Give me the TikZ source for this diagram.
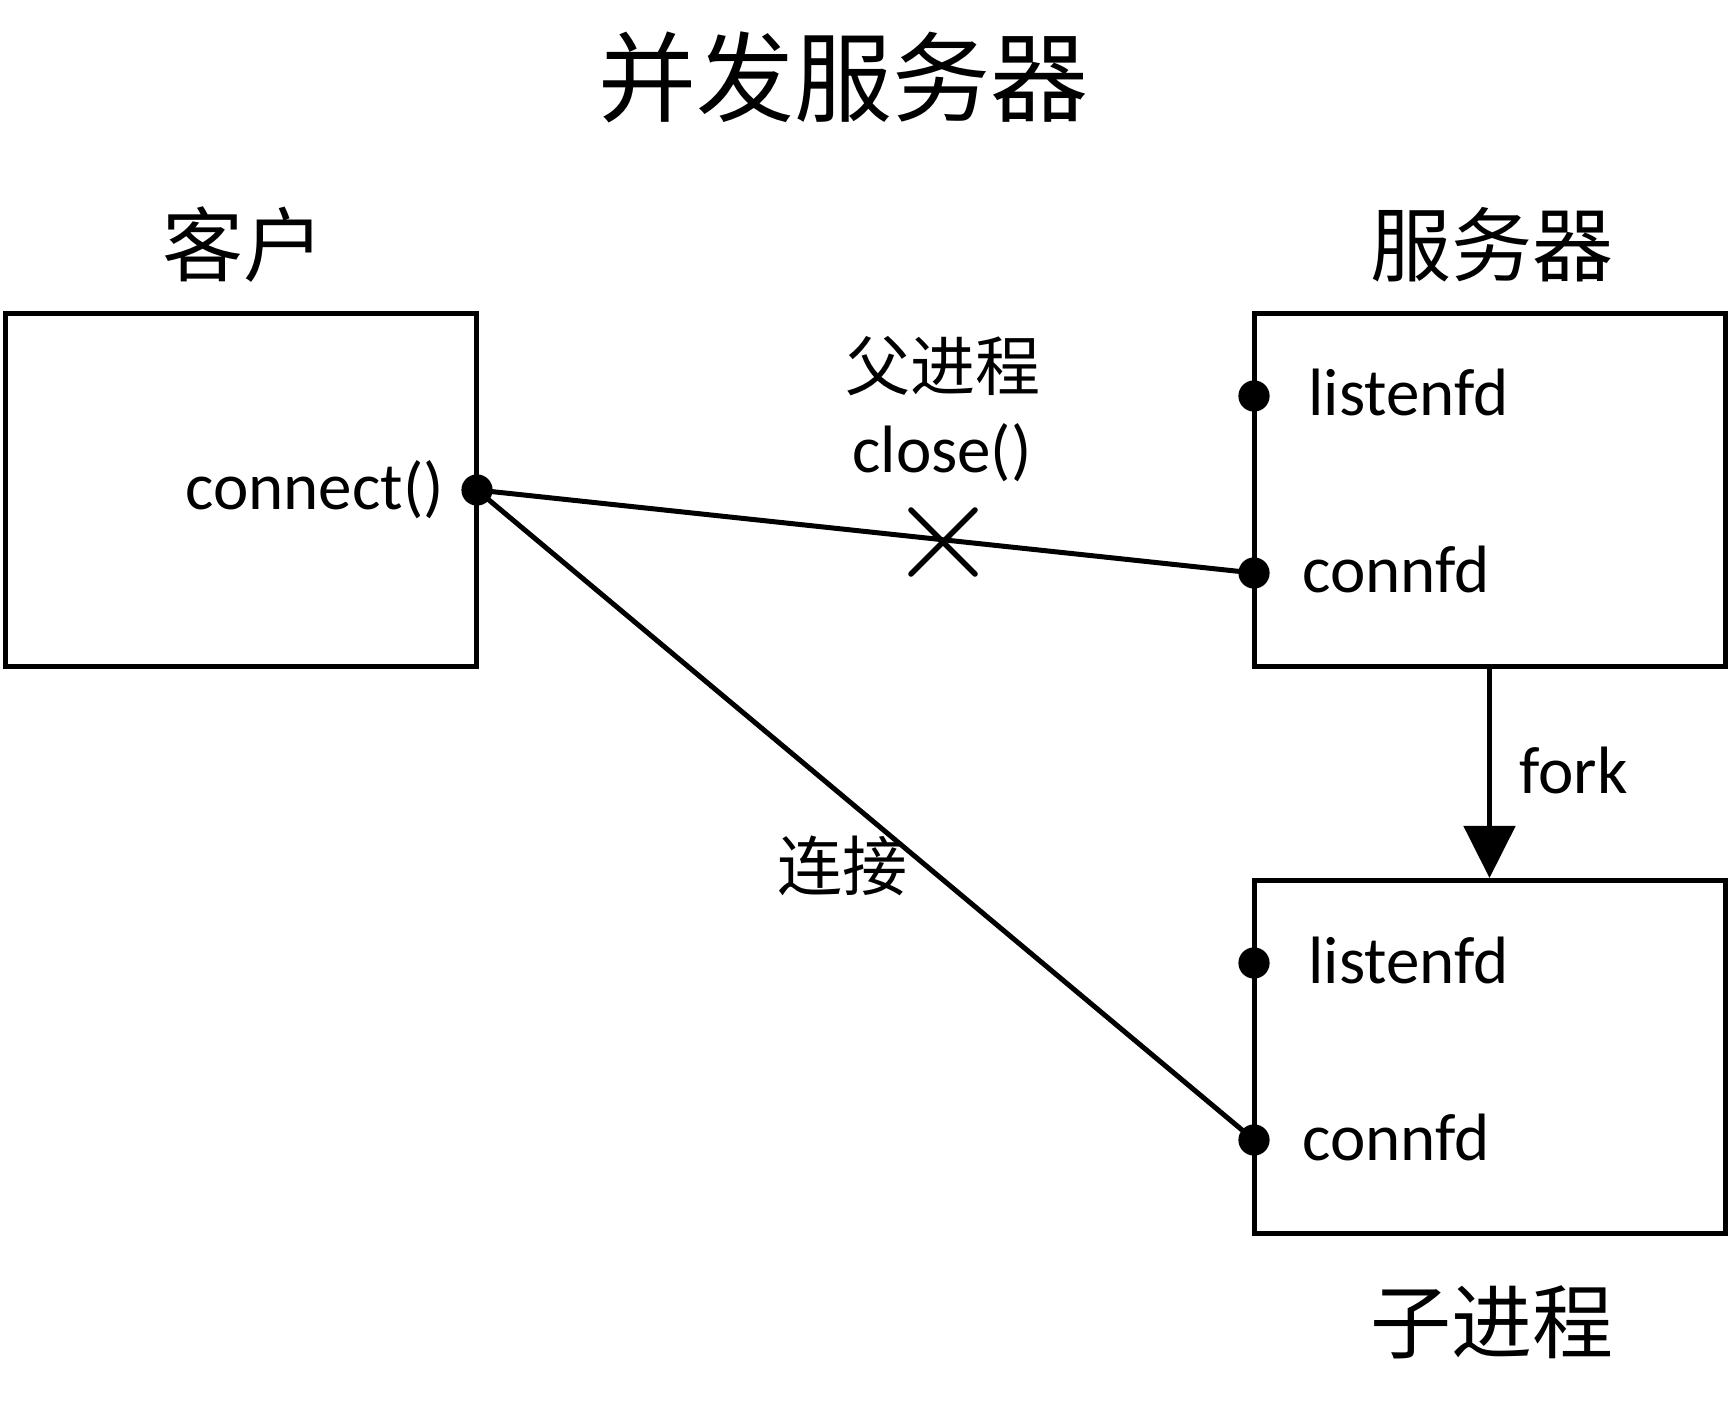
\documentclass[tikz,border=0pt]{standalone}
\usepackage{fontspec}
\setmainfont{Carlito}
\newfontfamily\cjk{Noto Sans CJK SC}
\usetikzlibrary{arrows.meta}
\begin{document}
\begin{tikzpicture}[x=0.5pt,y=-0.5pt,
  box/.style={draw,line width=2.5pt,rectangle,inner sep=0pt,line join=miter,
    minimum width=235.5pt,minimum height=176.5pt},
  conn/.style={line width=2.5pt},
  dotmark/.style={fill=black},
  lat/.style={font=\fontsize{33.5pt}{38pt}\selectfont,inner sep=0pt},
  titlecjk/.style={font=\cjk\fontsize{49pt}{54pt}\selectfont,inner sep=0pt},
  bigcjk/.style={font=\cjk\fontsize{40.5pt}{45pt}\selectfont,inner sep=0pt},
  smallcjk/.style={font=\cjk\fontsize{32.5pt}{36pt}\selectfont,inner sep=0pt},
  cross/.style={line width=2.8pt,line cap=round}]
\useasboundingbox (0,0) rectangle (1731,1406);
% boxes
\node[box] (client) at (241,490.5) {};
\node[box] (server) at (1489.5,490.5) {};
\node[box] (child) at (1489.5,1057) {};
% titles
\node[titlecjk] (title) at (843,77) {并发服务器};
\node[bigcjk] (clientlbl) at (243,245) {客户};
\node[bigcjk] (serverlbl) at (1492,245) {服务器};
\node[bigcjk] (childlbl) at (1492,1322) {子进程};
% port coordinates
\coordinate (cdot) at (477,490);
\coordinate (slisten) at (1254,396);
\coordinate (sconn) at (1254,573);
\coordinate (clisten) at (1254,963);
\coordinate (cconn) at (1254,1140);
% texts
\node[lat,anchor=base west] (connecttxt) at (185,510) {connect()};
\node[lat,anchor=base west] (slistentxt) at (1308,416) {listenfd};
\node[lat,anchor=base west] (sconntxt) at (1302,593) {connfd};
\node[lat,anchor=base west] (clistentxt) at (1308,983) {listenfd};
\node[lat,anchor=base west] (cconntxt) at (1302,1160) {connfd};
\node[lat,anchor=base west] (forktxt) at (1519,794) {fork};
\node[lat,anchor=base] (closetxt) at (942,473) {close()};
\node[smallcjk] (parenttxt) at (943,366) {父进程};
\node[smallcjk] (linktxt) at (842,866) {连接};
% connectors
\draw[conn] (cdot) -- (sconn);
\draw[conn] (cdot) -- (cconn);
\draw[conn,-{Triangle[length=26pt,width=25.5pt]}] (server.south) -- (child.north);
% cross
\coordinate (xc) at (943,542);
\draw[cross] ([xshift=-16pt,yshift=16pt]xc) -- ([xshift=16pt,yshift=-16pt]xc);
\draw[cross] ([xshift=-16pt,yshift=-16pt]xc) -- ([xshift=16pt,yshift=16pt]xc);
% dots
\foreach \p in {cdot,slisten,sconn,clisten,cconn}
  \fill[dotmark] (\p) circle (7.8pt);
\end{tikzpicture}
\end{document}
